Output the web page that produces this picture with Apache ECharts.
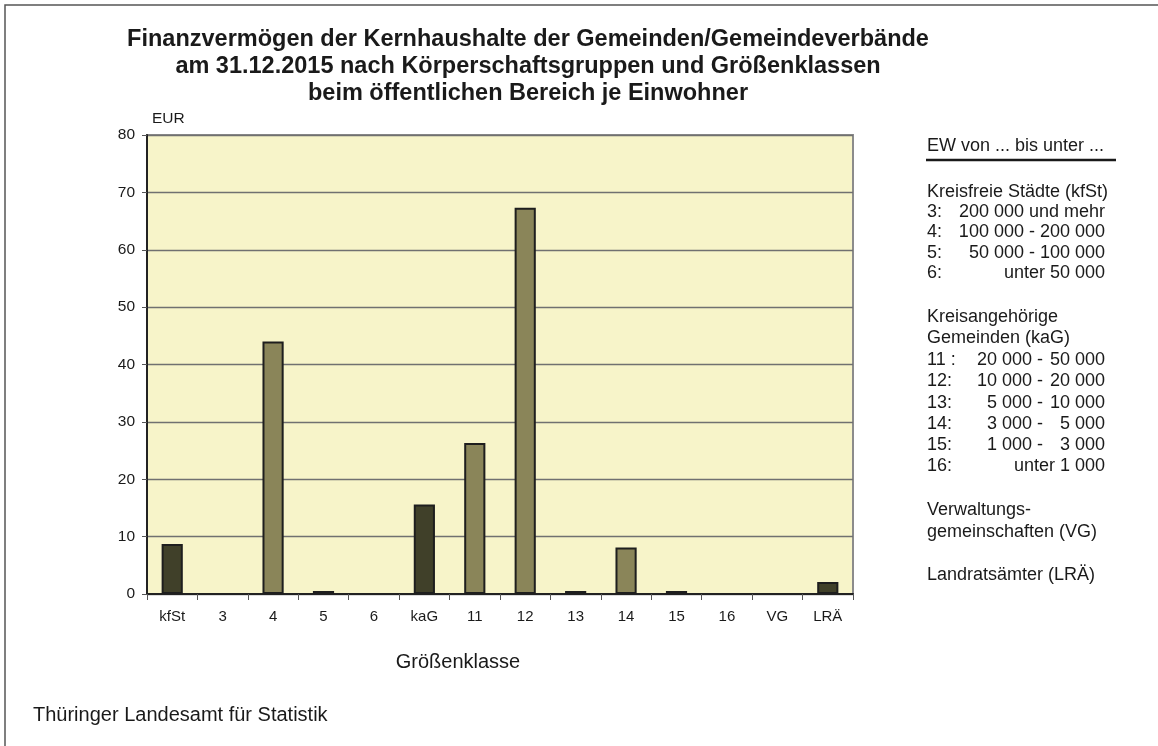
<!DOCTYPE html>
<html>
<head>
<meta charset="utf-8">
<script src="https://cdn.jsdelivr.net/npm/echarts@6/dist/echarts.min.js"></script>
<style>
  html, body { margin: 0; padding: 0; background: #fff; }
  #chart { width: 1158px; height: 746px; }
</style>
</head>
<body>
<div id="chart"></div>
<script>
// Größenklassen (x axis)
var categories = ['kfSt', '3', '4', '5', '6', 'kaG', '11', '12', '13', '14', '15', '16', 'VG', 'LRÄ']
// EUR je Einwohner
var values = [8.7, 0, 44.0, 0.3, 0, 15.6, 26.3, 67.3, 0.2, 8.1, 0.5, 0, 0, 2.1]
// Summenzeilen (dunkle Balken) vs. Größenklassen (helle Balken)
var isGroup = [true, false, false, true, false, true, false, false, true, false, true, false, false, true]
var yTicks = { min: 0, max: 80, interval: 10 }

var titleText = 'Finanzvermögen der Kernhaushalte der Gemeinden/Gemeindeverbände\n' +
  'am 31.12.2015 nach Körperschaftsgruppen und Größenklassen\n' +
  'beim öffentlichen Bereich je Einwohner'

// Legende rechts: [label, left part, right part]
var legendKfSt = [
  ['3:', '', '200 000 und mehr'],
  ['4:', '', '100 000 - 200 000'],
  ['5:', '', '50 000 - 100 000'],
  ['6:', '', 'unter 50 000']
]
var legendKaG = [
  ['11 :', '20 000 -', '50 000'],
  ['12:', '10 000 -', '20 000'],
  ['13:', '5 000 -', '10 000'],
  ['14:', '3 000 -', '5 000'],
  ['15:', '1 000 -', '3 000'],
  ['16:', '', 'unter 1 000']
]

var font = 'Liberation Sans, Arial, sans-serif'
var textColor = '#1a1a1a'
var darkBar = '#404029'
var lightBar = '#8a8559'

var chart = echarts.init(document.getElementById('chart'))

function txt(x, y, text, align, size) {
  return {
    type: 'text',
    x: x,
    y: y,
    style: {
      text: text,
      align: align || 'left',
      verticalAlign: 'middle',
      font: (size || 18) + 'px ' + font,
      fill: textColor
    }
  }
}

var legendX = 927
var rightX = 1105
var midX = 1043
var graphics = []
// Rahmen
graphics.push({
  type: 'rect',
  shape: { x: 5, y: 5, width: 1250, height: 850 },
  style: { fill: null, stroke: '#555', lineWidth: 1.5 },
  silent: true
})
graphics.push(txt(legendX, 146, 'EW von ... bis unter ...'))
graphics.push({
  type: 'line',
  shape: { x1: legendX - 1, y1: 160, x2: 1116, y2: 160 },
  style: { stroke: '#1a1a1a', lineWidth: 2.5 }
})
graphics.push(txt(legendX, 192, 'Kreisfreie Städte (kfSt)'))
legendKfSt.forEach(function (r, i) {
  var y = 212 + i * 20.5
  graphics.push(txt(legendX, y, r[0]))
  graphics.push(txt(rightX, y, r[2], 'right'))
})
graphics.push(txt(legendX, 317, 'Kreisangehörige'))
graphics.push(txt(legendX, 338, 'Gemeinden (kaG)'))
legendKaG.forEach(function (r, i) {
  var y = 360 + i * 21.3
  graphics.push(txt(legendX, y, r[0]))
  if (r[1]) graphics.push(txt(midX, y, r[1], 'right'))
  graphics.push(txt(rightX, y, r[2], 'right'))
})
graphics.push(txt(legendX, 510, 'Verwaltungs-'))
graphics.push(txt(legendX, 532, 'gemeinschaften (VG)'))
graphics.push(txt(legendX, 575, 'Landratsämter (LRÄ)'))
graphics.push(txt(33, 715, 'Thüringer Landesamt für Statistik', 'left', 20))

chart.setOption({
  backgroundColor: '#fff',
  animation: false,
  textStyle: { fontFamily: font },
  title: {
    text: titleText,
    left: 523,
    top: 21,
    textAlign: 'center',
    textStyle: {
      fontFamily: font,
      fontSize: 23.5,
      fontWeight: 'bold',
      lineHeight: 27,
      color: textColor
    }
  },
  grid: {
    left: 147,
    right: 305,
    top: 135,
    bottom: 152,
    show: true,
    backgroundColor: '#f7f4c9',
    borderColor: '#8c8c8c',
    borderWidth: 2
  },
  xAxis: {
    type: 'category',
    data: categories,
    name: 'Größenklasse',
    nameLocation: 'middle',
    nameGap: 58,
    nameTextStyle: { fontSize: 20, color: textColor, fontFamily: font, padding: [0, 84, 0, 0] },
    axisLine: { lineStyle: { color: '#222', width: 2 } },
    axisTick: { show: true, alignWithLabel: false, length: 6, lineStyle: { color: '#555' } },
    axisLabel: { fontSize: 15, color: textColor, margin: 15, fontFamily: font }
  },
  yAxis: {
    type: 'value',
    min: yTicks.min,
    max: yTicks.max,
    interval: yTicks.interval,
    name: 'EUR',
    nameLocation: 'end',
    nameGap: 8,
    nameTextStyle: { fontSize: 15.5, color: textColor, align: 'left', padding: [0, 0, 0, 5], fontFamily: font },
    axisLine: { show: true, lineStyle: { color: '#222', width: 2 } },
    axisTick: { show: true, length: 5, lineStyle: { color: '#555' } },
    axisLabel: { fontSize: 15.5, color: textColor, margin: 12, fontFamily: font },
    splitLine: { lineStyle: { color: '#707070', width: 1.3 } }
  },
  series: [{
    type: 'bar',
    barWidth: '42%',
    barMinHeight: 3,
    data: values.map(function (v, i) {
      if (v === 0) return '-'
      return {
        value: v,
        itemStyle: { color: isGroup[i] ? darkBar : lightBar }
      }
    }),
    itemStyle: { borderColor: '#1e1e1e', borderWidth: 2 }
  }],
  graphic: graphics
})
</script>
</body>
</html>
